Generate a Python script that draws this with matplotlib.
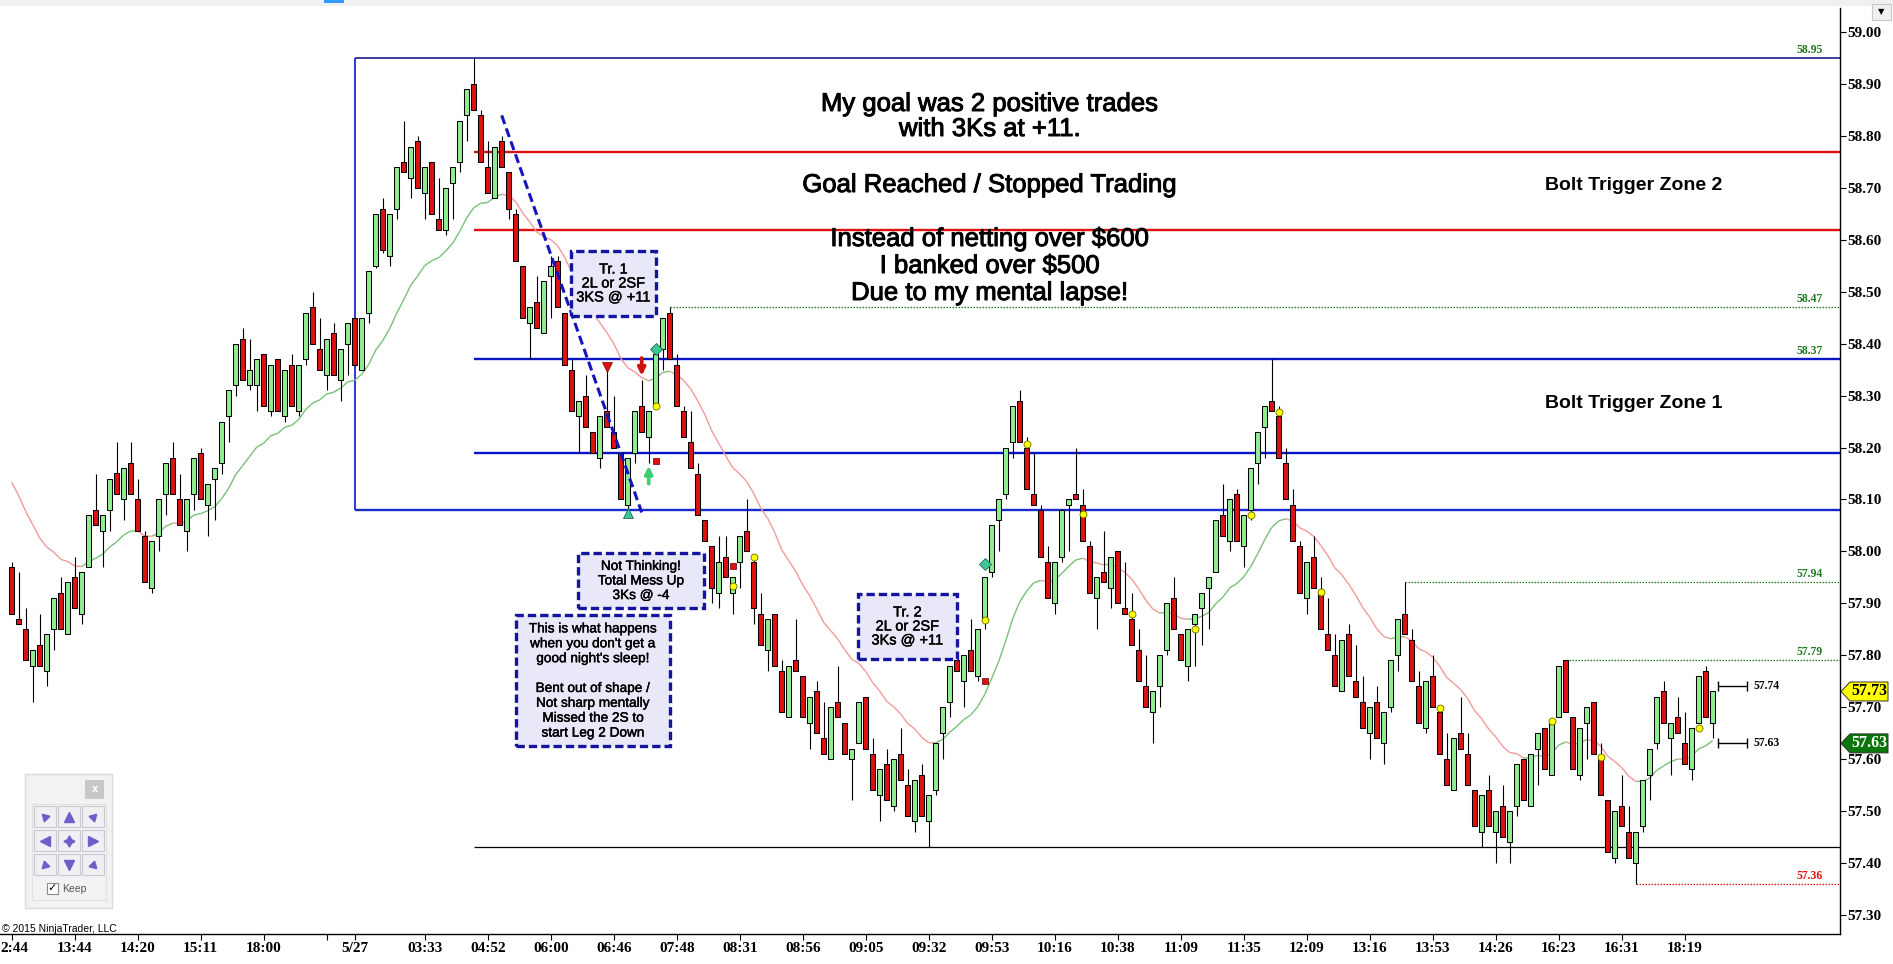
import matplotlib.pyplot as plt
import matplotlib.patheffects as pe
import numpy as np
from matplotlib.patches import Rectangle, Polygon
from matplotlib.collections import LineCollection
from matplotlib.transforms import blended_transform_factory

# ---- data (one bar per entry) ----
opens = [57.97, 57.87, 57.85, 57.78, 57.82, 57.77, 57.85, 57.92, 57.84, 57.95,
         57.88, 57.97, 58.08, 58.04, 58.08, 58.15, 58.10, 58.17, 58.10, 58.03,
         57.93, 58.03, 58.11, 58.18, 58.10, 58.04, 58.11, 58.19, 58.09, 58.14,
         58.17, 58.26, 58.32, 58.41, 58.32, 58.32, 58.38, 58.27, 58.37, 58.26,
         58.36, 58.27, 58.37, 58.47, 58.39, 58.34, 58.42, 58.33, 58.40, 58.45,
         58.35, 58.46, 58.55, 58.66, 58.57, 58.66, 58.75, 58.72, 58.79, 58.69,
         58.75, 58.64, 58.62, 58.71, 58.75, 58.84, 58.90, 58.84, 58.74, 58.68,
         58.79, 58.73, 58.65, 58.55, 58.44, 58.48, 58.42, 58.53, 58.56, 58.46,
         58.35, 58.26, 58.30, 58.23, 58.18, 58.27, 58.23, 58.19, 58.09, 58.19,
         58.28, 58.22, 58.28, 58.39, 58.46, 58.36, 58.27, 58.21, 58.15, 58.06,
         58.01, 57.92, 57.99, 57.92, 57.98, 58.04, 57.98, 57.88, 57.81, 57.88,
         57.77, 57.68, 57.79, 57.76, 57.67, 57.73, 57.64, 57.60, 57.71, 57.67,
         57.60, 57.63, 57.72, 57.61, 57.53, 57.59, 57.51, 57.61, 57.55, 57.48,
         57.57, 57.48, 57.54, 57.65, 57.71, 57.79, 57.75, 57.81, 57.76, 57.87,
         57.96, 58.06, 58.11, 58.21, 58.29, 58.20, 58.11, 58.08, 57.98, 57.90,
         57.99, 58.09, 58.11, 58.09, 58.01, 57.91, 57.96, 57.93, 58.00, 57.89,
         57.87, 57.81, 57.74, 57.69, 57.74, 57.81, 57.91, 57.84, 57.78, 57.86,
         57.89, 57.93, 57.96, 58.07, 58.02, 58.11, 58.01, 58.08, 58.17, 58.24,
         58.29, 58.26, 58.17, 58.09, 58.01, 57.91, 57.99, 57.92, 57.84, 57.80,
         57.73, 57.84, 57.75, 57.71, 57.65, 57.71, 57.63, 57.70, 57.80, 57.88,
         57.83, 57.74, 57.66, 57.76, 57.69, 57.60, 57.54, 57.65, 57.61, 57.54,
         57.46, 57.54, 57.46, 57.51, 57.44, 57.51, 57.60, 57.51, 57.62, 57.66,
         57.57, 57.68, 57.79, 57.68, 57.57, 57.67, 57.71, 57.60, 57.52, 57.41,
         57.51, 57.46, 57.40, 57.47, 57.57, 57.63, 57.73, 57.64, 57.68, 57.63,
         57.58, 57.67, 57.77, 57.67]
highs = [57.98, 57.96, 57.89, 57.81, 57.88, 57.84, 57.91, 57.95, 57.94, 57.99,
         57.96, 58.07, 58.15, 58.07, 58.14, 58.21, 58.16, 58.21, 58.14, 58.04,
         58.02, 58.10, 58.17, 58.21, 58.15, 58.10, 58.18, 58.20, 58.13, 58.16,
         58.25, 58.31, 58.40, 58.43, 58.41, 58.37, 58.38, 58.36, 58.37, 58.35,
         58.38, 58.36, 58.46, 58.50, 58.45, 58.41, 58.44, 58.39, 58.44, 58.45,
         58.45, 58.54, 58.65, 58.68, 58.65, 58.74, 58.83, 58.78, 58.80, 58.74,
         58.75, 58.72, 58.70, 58.74, 58.83, 58.89, 58.95, 58.85, 58.79, 58.78,
         58.80, 58.73, 58.66, 58.55, 58.47, 58.53, 58.52, 58.57, 58.57, 58.46,
         58.37, 58.29, 58.34, 58.23, 58.26, 58.35, 58.30, 58.19, 58.18, 58.27,
         58.33, 58.27, 58.38, 58.45, 58.47, 58.38, 58.28, 58.27, 58.17, 58.06,
         58.01, 58.03, 58.03, 57.95, 58.03, 58.10, 57.99, 57.92, 57.87, 57.88,
         57.79, 57.78, 57.87, 57.76, 57.72, 57.75, 57.71, 57.70, 57.78, 57.67,
         57.62, 57.71, 57.72, 57.64, 57.58, 57.62, 57.60, 57.66, 57.58, 57.56,
         57.59, 57.53, 57.63, 57.70, 57.78, 57.79, 57.80, 57.87, 57.85, 57.95,
         58.05, 58.10, 58.20, 58.28, 58.31, 58.22, 58.19, 58.09, 58.01, 57.98,
         58.08, 58.10, 58.20, 58.12, 58.02, 57.95, 58.04, 57.99, 58.00, 57.98,
         57.92, 57.85, 57.80, 57.73, 57.80, 57.90, 57.95, 57.84, 57.85, 57.88,
         57.92, 57.95, 58.06, 58.13, 58.10, 58.12, 58.07, 58.16, 58.23, 58.28,
         58.37, 58.28, 58.20, 58.12, 58.02, 57.98, 58.03, 57.95, 57.91, 57.84,
         57.83, 57.86, 57.82, 57.76, 57.70, 57.74, 57.69, 57.79, 57.87, 57.94,
         57.85, 57.77, 57.75, 57.80, 57.70, 57.65, 57.64, 57.72, 57.65, 57.54,
         57.53, 57.57, 57.50, 57.55, 57.50, 57.59, 57.60, 57.61, 57.65, 57.66,
         57.67, 57.78, 57.79, 57.68, 57.66, 57.70, 57.71, 57.63, 57.52, 57.50,
         57.57, 57.51, 57.46, 57.56, 57.62, 57.72, 57.75, 57.67, 57.72, 57.69,
         57.66, 57.76, 57.78, 57.73]
lows = [57.88, 57.86, 57.79, 57.71, 57.78, 57.74, 57.81, 57.85, 57.84, 57.89,
        57.86, 57.97, 58.05, 57.97, 58.04, 58.11, 58.06, 58.11, 58.04, 57.94,
        57.92, 58.00, 58.07, 58.11, 58.05, 58.00, 58.08, 58.10, 58.03, 58.06,
        58.15, 58.21, 58.30, 58.33, 58.31, 58.27, 58.28, 58.26, 58.27, 58.25,
        58.28, 58.26, 58.36, 58.40, 58.35, 58.31, 58.34, 58.29, 58.34, 58.36,
        58.35, 58.44, 58.545, 58.575, 58.55, 58.64, 58.73, 58.68, 58.70, 58.64,
        58.65, 58.62, 58.61, 58.64, 58.73, 58.79, 58.85, 58.75, 58.69, 58.68,
        58.74, 58.64, 58.56, 58.45, 58.37, 58.43, 58.42, 58.45, 58.47, 58.36,
        58.27, 58.19, 58.24, 58.19, 58.16, 58.24, 58.20, 58.10, 58.08, 58.17,
        58.23, 58.17, 58.28, 58.35, 58.37, 58.28, 58.22, 58.16, 58.07, 58.02,
        57.90, 57.89, 57.95, 57.88, 57.93, 58.00, 57.86, 57.82, 57.77, 57.78,
        57.69, 57.68, 57.77, 57.68, 57.62, 57.65, 57.61, 57.60, 57.68, 57.61,
        57.52, 57.63, 57.62, 57.54, 57.48, 57.52, 57.50, 57.56, 57.49, 57.46,
        57.49, 57.43, 57.53, 57.60, 57.68, 57.77, 57.70, 57.77, 57.75, 57.85,
        57.95, 58.00, 58.10, 58.18, 58.21, 58.12, 58.09, 57.99, 57.91, 57.88,
        57.98, 58.00, 58.10, 58.02, 57.92, 57.85, 57.94, 57.89, 57.90, 57.88,
        57.82, 57.75, 57.70, 57.63, 57.70, 57.80, 57.85, 57.79, 57.75, 57.78,
        57.82, 57.85, 57.96, 58.03, 58.00, 58.02, 57.97, 58.06, 58.13, 58.18,
        58.27, 58.18, 58.10, 58.02, 57.92, 57.88, 57.93, 57.85, 57.81, 57.74,
        57.73, 57.76, 57.72, 57.66, 57.60, 57.64, 57.59, 57.69, 57.77, 57.84,
        57.75, 57.67, 57.65, 57.70, 57.61, 57.55, 57.54, 57.62, 57.55, 57.47,
        57.43, 57.47, 57.40, 57.45, 57.40, 57.49, 57.52, 57.51, 57.55, 57.58,
        57.57, 57.68, 57.69, 57.58, 57.56, 57.60, 57.61, 57.53, 57.42, 57.40,
        57.47, 57.41, 57.36, 57.46, 57.52, 57.62, 57.67, 57.57, 57.65, 57.59,
        57.56, 57.67, 57.68, 57.64]
closes = [57.88, 57.86, 57.79, 57.81, 57.78, 57.84, 57.91, 57.85, 57.94, 57.89,
          57.96, 58.07, 58.05, 58.07, 58.14, 58.11, 58.16, 58.11, 58.04, 57.94,
          58.02, 58.10, 58.17, 58.11, 58.05, 58.10, 58.18, 58.10, 58.13, 58.16,
          58.25, 58.31, 58.40, 58.33, 58.35, 58.37, 58.28, 58.36, 58.27, 58.35,
          58.28, 58.36, 58.46, 58.40, 58.35, 58.41, 58.34, 58.39, 58.44, 58.36,
          58.45, 58.54, 58.65, 58.58, 58.65, 58.74, 58.73, 58.78, 58.70, 58.74,
          58.65, 58.62, 58.70, 58.74, 58.83, 58.89, 58.85, 58.75, 58.69, 58.78,
          58.74, 58.66, 58.56, 58.45, 58.47, 58.43, 58.52, 58.55, 58.47, 58.36,
          58.27, 58.29, 58.24, 58.19, 58.26, 58.24, 58.20, 58.10, 58.18, 58.27,
          58.23, 58.27, 58.38, 58.45, 58.37, 58.28, 58.22, 58.16, 58.07, 58.02,
          57.93, 57.98, 57.95, 57.95, 58.03, 58.00, 57.89, 57.82, 57.87, 57.78,
          57.69, 57.78, 57.77, 57.68, 57.72, 57.65, 57.61, 57.70, 57.68, 57.61,
          57.62, 57.71, 57.62, 57.54, 57.58, 57.52, 57.60, 57.56, 57.49, 57.56,
          57.49, 57.53, 57.63, 57.70, 57.78, 57.77, 57.80, 57.77, 57.85, 57.95,
          58.05, 58.10, 58.20, 58.28, 58.21, 58.12, 58.09, 57.99, 57.91, 57.98,
          58.08, 58.10, 58.10, 58.02, 57.92, 57.95, 57.94, 57.99, 57.90, 57.88,
          57.82, 57.75, 57.70, 57.73, 57.80, 57.90, 57.85, 57.79, 57.85, 57.88,
          57.92, 57.95, 58.06, 58.03, 58.10, 58.02, 58.07, 58.16, 58.23, 58.28,
          58.27, 58.18, 58.10, 58.02, 57.92, 57.98, 57.93, 57.85, 57.81, 57.74,
          57.83, 57.76, 57.72, 57.66, 57.70, 57.64, 57.69, 57.79, 57.87, 57.84,
          57.75, 57.67, 57.75, 57.70, 57.61, 57.55, 57.64, 57.62, 57.55, 57.47,
          57.53, 57.47, 57.50, 57.45, 57.50, 57.59, 57.52, 57.61, 57.65, 57.58,
          57.67, 57.78, 57.69, 57.58, 57.66, 57.70, 57.61, 57.53, 57.42, 57.50,
          57.47, 57.41, 57.46, 57.56, 57.62, 57.72, 57.67, 57.67, 57.65, 57.59,
          57.66, 57.76, 57.68, 57.73]

ma_start = 58.16     # moving average value at the first visible bar
ma_period = 20

# first label is cut by the left edge in the original ("2:44"), drawn separately
tick_bars = [0, 9, 18, 27, 36, 45, 49, 59, 68, 77, 86, 95, 104, 113, 122, 131,
             140, 149, 158, 167, 176, 185, 194, 203, 212, 221, 230, 239]
tick_labels = ['', '13:44', '14:20', '15:11', '18:00', '', '5/27', '03:33',
               '04:52', '06:00', '06:46', '07:48', '08:31', '08:56', '09:05',
               '09:32', '09:53', '10:16', '10:38', '11:09', '11:35', '12:09',
               '13:16', '13:53', '14:26', '16:23', '16:31', '18:19']
first_label = '2:44'

zone_top, zone_bottom, zone_start = 58.95, 58.08, 49
blue_levels = [58.37, 58.19]
red_levels = [58.77, 58.62]
black_level = 57.43
lines_start = 66
dotted_levels = [58.47, 57.94, 57.79, 57.36]
dotted_start = [94, 199, 222, 232]
dotted_colors = ['#1f7a1f', '#1f7a1f', '#1f7a1f', '#e01010']
right_labels = [58.95, 58.47, 58.37, 57.94, 57.79, 57.36]
right_label_colors = ['#1f7a1f'] * 5 + ['#e01010']
trend_bars = [70, 90]
trend_prices = [58.84, 58.075]

yellow_bars = [92, 103, 106, 139, 145, 153, 160, 169, 177, 181, 187, 204, 220, 227, 241]
yellow_prices = [58.28, 57.934, 57.989, 57.868, 58.207, 58.072, 57.879, 57.850,
                 58.070, 58.269, 57.921, 57.698, 57.673, 57.604, 57.659]
square_bars = [92, 103, 139]
square_prices = [58.175, 57.972, 57.751]
diamond_bars = [92, 139]
diamond_prices = [58.39, 57.976]

last_price = 57.73
tag2_price = 57.63
bracket_prices = [57.74, 57.63]

# ---- pixel layout helpers ----
W, H = 1893, 964
AX_R, AX_T, AX_B = 1840, 8, 934
BAR0, BAR_DX = 11.7, 7.0
P_REF, Y_REF, PX_PER = 58.95, 58.3, 519.0


def kx(px):
    return (px - BAR0) / BAR_DX


def py(y):
    return P_REF - (y - Y_REF) / PX_PER


SANS = 'Liberation Sans'
SERIF = 'Liberation Serif'
thick = [pe.withStroke(linewidth=0.7, foreground='black')]

fig = plt.figure(figsize=(W / 100, H / 100), dpi=100)
fig.patch.set_facecolor('white')
ax = fig.add_axes([0, 1 - AX_B / H, AX_R / W, (AX_B - AX_T) / H])
ax.set_xlim(kx(0), kx(AX_R))
ax.set_ylim(py(AX_B), py(AX_T))
xr = kx(AX_R)

o = np.array(opens)
h = np.array(highs)
l = np.array(lows)
c = np.array(closes)
x = np.arange(len(o))
up = c >= o

# horizontal levels
ax.hlines(zone_top, zone_start, xr, color='#1c1c8c', lw=1.2, zorder=1)
ax.hlines(zone_bottom, zone_start, xr, color='#1a2ad0', lw=1.7, zorder=1)
ax.vlines(zone_start, zone_bottom, zone_top, color='#1a2ad0', lw=1.3, zorder=1)
ax.hlines(blue_levels, lines_start, xr, color='#0a14c8', lw=1.7, zorder=1)
ax.hlines(red_levels, lines_start, xr, color='#e01010', lw=1.7, zorder=1)
ax.hlines(black_level, lines_start, xr, color='black', lw=0.9, zorder=1)
for lv, st, col in zip(dotted_levels, dotted_start, dotted_colors):
    ax.hlines(lv, st, xr, color=col, lw=0.9, linestyles=(0, (1.2, 1.2)), zorder=1)
for lv, col in zip(right_labels, right_label_colors):
    ax.text(kx(1823), lv + 2 / PX_PER, f'{lv:.2f}', ha='right', va='bottom',
            fontsize=8.5, fontweight='bold', family=SERIF, color=col, zorder=2)

# moving average, coloured by slope
ma = []
prev = ma_start
for v in c:
    prev = prev + (v - prev) * 2 / (ma_period + 1)
    ma.append(prev)
ma = np.array(ma)
segs = [[(x[i - 1], ma[i - 1]), (x[i], ma[i])] for i in range(1, len(ma))]
seg_cols = ['#78c078' if ma[i] >= ma[i - 1] else '#f19a9a' for i in range(1, len(ma))]
ax.add_collection(LineCollection(segs, colors=seg_cols, linewidths=1.0, zorder=2))

# candles
ax.vlines(x, l, h, color='black', lw=0.8, zorder=3)
ax.bar(x, np.abs(c - o), bottom=np.minimum(o, c), width=0.68,
       color=np.where(up, '#90ee90', '#dd1111'), edgecolor='black',
       linewidth=0.75, zorder=4)

# trend line
ax.plot(trend_bars, trend_prices, color='#1515c0', lw=2.2, ls=(0, (3, 1.5)), zorder=5)

# signal markers
ax.plot(yellow_bars, yellow_prices, 'o', ms=5, color='#ffff00', mec='#6b6b00', mew=0.6, zorder=6)
ax.plot(square_bars, square_prices, 's', ms=4.5, color='#dd1111', mec='#600', mew=0.5, zorder=6)
ax.plot(diamond_bars, diamond_prices, 'D', ms=6, color='#3cc896', mec='#1d6b4d', mew=0.6, zorder=6)
ax.plot([85], [58.355], 'v', ms=7, color='#dd1111', mec='#700', mew=0.5, zorder=6)
ax.plot([88], [58.073], '^', ms=7, color='#3cc896', mec='#1d6b4d', mew=0.6, zorder=6)
ax.annotate('', xy=(90, 58.333), xytext=(90, 58.378),
            arrowprops=dict(arrowstyle='-|>', color='#d01010', lw=2.6, mutation_scale=11), zorder=6)
ax.annotate('', xy=(91, 58.170), xytext=(91, 58.125),
            arrowprops=dict(arrowstyle='-|>', color='#38d070', lw=2.6, mutation_scale=11), zorder=6)

# bid / ask brackets at the right of the last bar
for bp in bracket_prices:
    ax.hlines(bp, kx(1718), kx(1747), color='black', lw=1.0, zorder=5)
    ax.vlines([kx(1718), kx(1747)], bp - 5 / PX_PER, bp + 5 / PX_PER, color='black', lw=1.0, zorder=5)
    ax.text(kx(1754), bp, f'{bp:.2f}', va='center', ha='left', fontsize=8.5,
            fontweight='bold', family=SERIF, zorder=5)

# headline notes
for txt, y in [('My goal was 2 positive trades', 104), ('with 3Ks at +11.', 129),
               ('Goal Reached / Stopped Trading', 185),
               ('Instead of netting over $600', 239), ('I banked over $500', 266),
               ('Due to my mental lapse!', 293)]:
    ax.text(kx(990), py(y), txt, ha='center', va='center', fontsize=18.5, family=SANS,
            zorder=7, path_effects=thick)
ax.text(kx(1634), py(185), 'Bolt Trigger Zone 2', ha='center', va='center',
        fontsize=14, fontweight='bold', family=SANS, zorder=7)
ax.text(kx(1634), py(404), 'Bolt Trigger Zone 1', ha='center', va='center',
        fontsize=14, fontweight='bold', family=SANS, zorder=7)


def note_box(x0, y0, x1, y1, text, size, spacing):
    ax.add_patch(Rectangle((kx(x0), py(y1)), kx(x1) - kx(x0), py(y0) - py(y1),
                           fc='#e8e8f8', ec='#1414a0', lw=2.4, ls=(0, (2.5, 1.2)), zorder=7))
    ax.text(kx((x0 + x1) / 2), py((y0 + y1) / 2), text, ha='center', va='center',
            fontsize=size, family=SANS, linespacing=spacing, zorder=8,
            path_effects=[pe.withStroke(linewidth=0.3, foreground='black')])


note_box(571, 251, 656, 316, 'Tr. 1\n2L or 2SF\n3KS @ +11', 10.5, 1.0)
note_box(578, 553, 704, 608, 'Not Thinking!\nTotal Mess Up\n3Ks @ -4', 9.8, 1.05)
note_box(516, 615, 670, 746, "This is what happens\nwhen you don't get a\ngood night's sleep!\n\n"
         "Bent out of shape /\nNot sharp mentally\nMissed the 2S to\nstart Leg 2 Down", 9.8, 1.08)
note_box(858, 594, 957, 659, 'Tr. 2\n2L or 2SF\n3Ks @ +11', 10.5, 1.0)

# axes styling
for s in ['left', 'top']:
    ax.spines[s].set_visible(False)
ax.spines['right'].set_linewidth(1.0)
ax.spines['bottom'].set_linewidth(1.0)
ax.yaxis.tick_right()
ax.set_yticks(np.round(np.arange(57.3, 59.001, 0.1), 2))
ax.set_yticklabels([f'{v:.2f}' for v in np.arange(57.3, 59.001, 0.1)])
ax.set_xticks(tick_bars)
ax.set_xticklabels(tick_labels)
ax.tick_params(axis='y', direction='out', length=4, width=0.8, pad=1, labelsize=11)
ax.tick_params(axis='x', direction='out', length=4, width=0.8, pad=2, labelsize=11)
for lab in ax.get_xticklabels() + ax.get_yticklabels():
    lab.set_family(SERIF)
    lab.set_fontweight('bold')

# price tags on the axis
bt = blended_transform_factory(ax.transAxes, ax.transData)
hh = 9.5 / PX_PER
for price, fc, tc in [(last_price, '#ffff00', 'black'), (tag2_price, '#0b760b', 'white')]:
    pts = [(1841 / AX_R, price), (1850 / AX_R, price + hh), (1888 / AX_R, price + hh),
           (1888 / AX_R, price - hh), (1850 / AX_R, price - hh)]
    ax.add_patch(Polygon(pts, closed=True, fc=fc, ec='#333333', lw=0.7,
                         transform=bt, clip_on=False, zorder=10))
    ax.text(1869 / AX_R, price, f'{price:.2f}', transform=bt, ha='center', va='center',
            fontsize=11.5, fontweight='bold', family=SERIF, color=tc, clip_on=False, zorder=11)

# overlay in pixel space for window chrome
ov = fig.add_axes([0, 0, 1, 1])
ov.set_xlim(0, W)
ov.set_ylim(H, 0)
ov.axis('off')
ov.patch.set_alpha(0)
ov.add_patch(Rectangle((0, 0), W, 6, fc='#f0f0f0', ec='none'))
ov.add_patch(Rectangle((324, 0), 20, 2.5, fc='#3399ff', ec='none'))
ov.add_patch(Rectangle((1872, 4), 19, 16, fc='#f0f0f0', ec='#c8c8c8', lw=0.8))
ov.text(1881.5, 12, '▼', ha='center', va='center', fontsize=6, family='DejaVu Sans')
ov.text(2, 929, '© 2015 NinjaTrader, LLC', ha='left', va='center', fontsize=7.5, family=SANS)
ov.text(0.5, 948, first_label, ha='left', va='center', fontsize=11, fontweight='bold', family=SERIF)

# navigation widget
ov.add_patch(Rectangle((25.4, 774), 87, 134, fc='#f2f2f2', ec='#dadada', lw=1))
ov.add_patch(Rectangle((32, 804), 74, 96, fc='#f2f2f2', ec='#e2e2e2', lw=0.8))
ov.add_patch(Rectangle((85, 780), 19, 19, fc='#c8c8c8', ec='none'))
ov.text(94.5, 789.5, 'x', ha='center', va='center', fontsize=7, color='white', fontweight='bold')
cells_x = [33.5, 57.6, 81.7]
cells_y = [805.7, 829.7, 853.7]
icons = [[(3, 0, 45), '^', (3, 0, -45)],
         ['<', (4, 1, 0), '>'],
         [(3, 0, 135), 'v', (3, 0, -135)]]
for r, cy in enumerate(cells_y):
    for q, cx in enumerate(cells_x):
        ov.add_patch(Rectangle((cx, cy), 22.3, 21.6, fc='#efeff4', ec='#c9c9d2', lw=0.8))
        ov.plot(cx + 11.15, cy + 10.8, marker=icons[r][q], ms=8 if r == q == 1 else 6.5,
                color='#6e5fc8', mec='#6e5fc8')
ov.add_patch(Rectangle((47, 883), 11, 11, fc='white', ec='#8a8a8a', lw=0.8))
ov.text(52.5, 888.5, '✓', ha='center', va='center', fontsize=8, family='DejaVu Sans')
ov.text(62, 889, 'Keep', ha='left', va='center', fontsize=7.5, color='#555555', family=SANS)

fig.savefig('out.png', dpi=100)
